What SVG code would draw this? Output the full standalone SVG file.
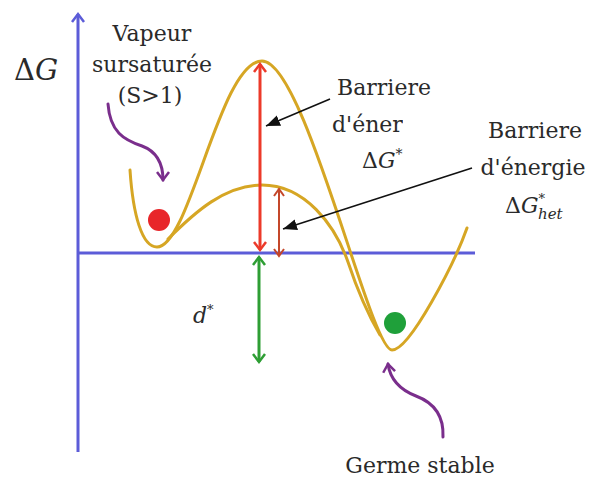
<svg xmlns="http://www.w3.org/2000/svg" width="591" height="482" viewBox="0 0 591 482">
<defs>
<style>
.lbl{font-family:"DejaVu Serif","Liberation Serif",serif;font-size:22px;fill:#2a2a2a;text-anchor:middle}
.math{font-family:"DejaVu Serif","Liberation Serif",serif;fill:#2a2a2a}
.it{font-style:italic}
.curve{fill:none;stroke:#D6A624;stroke-width:3;stroke-linecap:round}
.axis{stroke:#5C5CD8;stroke-width:3;fill:none}
.purple{fill:none;stroke:#7A2E8C;stroke-width:3;stroke-linecap:round}
.blk{stroke:#111;stroke-width:1.6;fill:none}
</style>
<marker id="mAxis" markerUnits="userSpaceOnUse" markerWidth="20" markerHeight="20" refX="10" refY="7" orient="auto-start-reverse"><path d="M2,1 L10,7 L2,13" fill="none" stroke="#5C5CD8" stroke-width="2.5"/></marker>
<marker id="mRed" markerUnits="userSpaceOnUse" markerWidth="20" markerHeight="20" refX="10" refY="7" orient="auto-start-reverse"><path d="M2,1 L10,7 L2,13" fill="none" stroke="#EC3A2A" stroke-width="2.5"/></marker>
<marker id="mBrown" markerUnits="userSpaceOnUse" markerWidth="20" markerHeight="20" refX="9" refY="6" orient="auto-start-reverse"><path d="M2,1 L9,6 L2,11" fill="none" stroke="#C4472A" stroke-width="2"/></marker>
<marker id="mGreen" markerUnits="userSpaceOnUse" markerWidth="20" markerHeight="20" refX="10" refY="7" orient="auto-start-reverse"><path d="M2,1 L10,7 L2,13" fill="none" stroke="#2E9E34" stroke-width="2.5"/></marker>
<marker id="mPurple" markerUnits="userSpaceOnUse" markerWidth="20" markerHeight="20" refX="10" refY="7" orient="auto"><path d="M2,1 L10,7 L2,13" fill="none" stroke="#7A2E8C" stroke-width="2.5"/></marker>
<marker id="mBlack" markerUnits="userSpaceOnUse" markerWidth="20" markerHeight="20" refX="14" refY="5.5" orient="auto"><path d="M0,0 L14,5.5 L0,11 z" fill="#111"/></marker>
</defs>
<rect width="591" height="482" fill="#fff"/>

<g id="axes">
<line class="axis" x1="78" y1="452" x2="78" y2="14" marker-end="url(#mAxis)"/>
<line class="axis" x1="77" y1="253" x2="475" y2="253"/>
</g>

<g id="curves">
<path class="curve" d="M130,170 C133,215 142,247 157,247 C190,247 220,61 262,61 C305,61 370,350 392,350 C410,350 455,262 467,228"/>
<path class="curve" d="M168,239 C195,212 225,185 262,185 C305,185 335,225 348,262 C358,292 370,318 380,335"/>
</g>

<g id="label-barriere-hom">
<text class="lbl" x="384" y="95">Barriere</text>
<text class="math" x="332" y="132" font-size="22">d'éner</text>
<text class="math" x="362" y="168" font-size="22">Δ<tspan class="it">G</tspan><tspan font-size="14" dy="-9">*</tspan></text>
<rect x="403" y="108" width="70" height="70" fill="#fff"/>
</g>

<g id="connectors">
<line x1="260" y1="64" x2="260" y2="250" stroke="#EC3A2A" stroke-width="3" marker-start="url(#mRed)" marker-end="url(#mRed)"/>
<line x1="279" y1="189" x2="279" y2="256" stroke="#C4472A" stroke-width="2" marker-start="url(#mBrown)" marker-end="url(#mBrown)"/>
<line x1="259" y1="257" x2="259" y2="362" stroke="#2E9E34" stroke-width="3" marker-start="url(#mGreen)" marker-end="url(#mGreen)"/>
<path class="blk" d="M330,99 L266,126" marker-end="url(#mBlack)"/>
<path class="blk" d="M472,168 L283,229" marker-end="url(#mBlack)"/>
<path class="purple" d="M108,104 C110,132 124,140 142,146 C158,152 163,165 163,180" marker-end="url(#mPurple)"/>
<path class="purple" d="M443,437 C444,414 432,402 416,396 C398,389 390,378 388,364" marker-end="url(#mPurple)"/>
</g>

<g id="dot-vapeur"><circle cx="159" cy="220" r="11" fill="#E8262A"/></g>
<g id="dot-germe"><circle cx="395" cy="323" r="11" fill="#1FA03A"/></g>

<g id="label-dG">
<text class="math" x="14" y="80" font-size="29">Δ<tspan class="it">G</tspan></text>
</g>

<g id="label-vapeur">
<text class="lbl" x="152" y="41">Vapeur</text>
<text class="lbl" x="152" y="72">sursaturée</text>
<text class="lbl" x="150" y="103">(S&gt;1)</text>
</g>

<g id="label-barriere-het">
<text class="lbl" x="535" y="138">Barriere</text>
<text class="lbl" x="533" y="175">d'énergie</text>
<text class="math" x="505" y="213" font-size="22">Δ<tspan class="it">G</tspan><tspan font-size="13" dy="-10">*</tspan><tspan class="it" font-size="15" dx="-7" dy="16">het</tspan></text>
</g>

<g id="label-d">
<text class="math it" x="193" y="323" font-size="22">d<tspan font-size="13" dy="-9" font-style="normal">*</tspan></text>
</g>

<g id="label-germe">
<text class="lbl" x="420" y="473">Germe stable</text>
</g>
</svg>
